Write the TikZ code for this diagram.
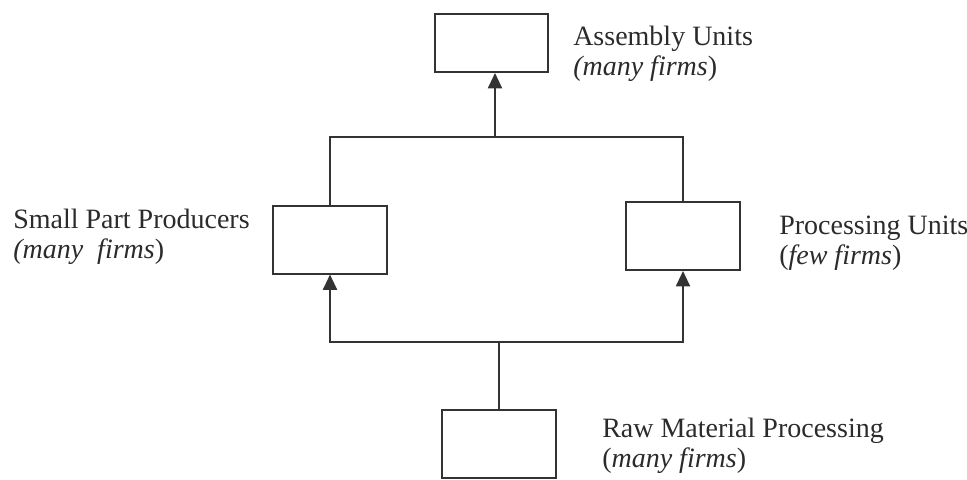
\documentclass[tikz,border=0pt]{standalone}
\usepackage{fontspec}
\setmainfont{Liberation Serif}
\usetikzlibrary{
  arrows.meta,
  positioning
}
\definecolor{linegray}{HTML}{333333}
\definecolor{textgray}{HTML}{2B2B2B}

\begin{document}
\begin{tikzpicture}[
  x=0.75pt, y=-0.75pt,
  >={Triangle[length=11.5pt,width=10.5pt]},
  unit/.style={draw=linegray, line width=1.5pt, minimum width=85.5pt,
    minimum height=51pt, inner sep=0pt},
  tag/.style={anchor=base west, align=left, inner sep=0pt, text=textgray,
    font=\fontsize{21}{22.5}\selectfont},
  link/.style={draw=linegray, line width=1.5pt},
]
\useasboundingbox (0,0) rectangle (967,479);

% boxes
\node[unit, minimum width=84.75pt, minimum height=43.5pt] (asm) at (491.5,43) {};
\node[unit] (spp) at (330,239.5) {};
\node[unit] (proc) at (683,236) {};
\node[unit] (raw) at (499,444) {};

% labels (anchored at the baseline of their last line)
\node[tag] (asmtag) at (573,75) {Assembly Units\\\textit{(many firms})};
\node[tag] (spptag) at (13,258) {Small Part Producers\\\textit{(many\ \ firms})};
\node[tag] (proctag) at (779,264) {Processing Units\\(\textit{few firms})};
\node[tag] (rawtag) at (602,467) {Raw Material Processing\\(\textit{many firms})};

% connectors
\coordinate (topmid) at (495,137);
\coordinate (botmid) at (499,342);
\draw[link] (spp.north) |- (topmid) -| (proc.north);
\draw[link,->] (topmid) -- (asm.south -| topmid);
\draw[link,<->] (spp.south) |- (botmid) -| (proc.south);
\draw[link] (raw.north) -- (botmid);
\end{tikzpicture}
\end{document}
